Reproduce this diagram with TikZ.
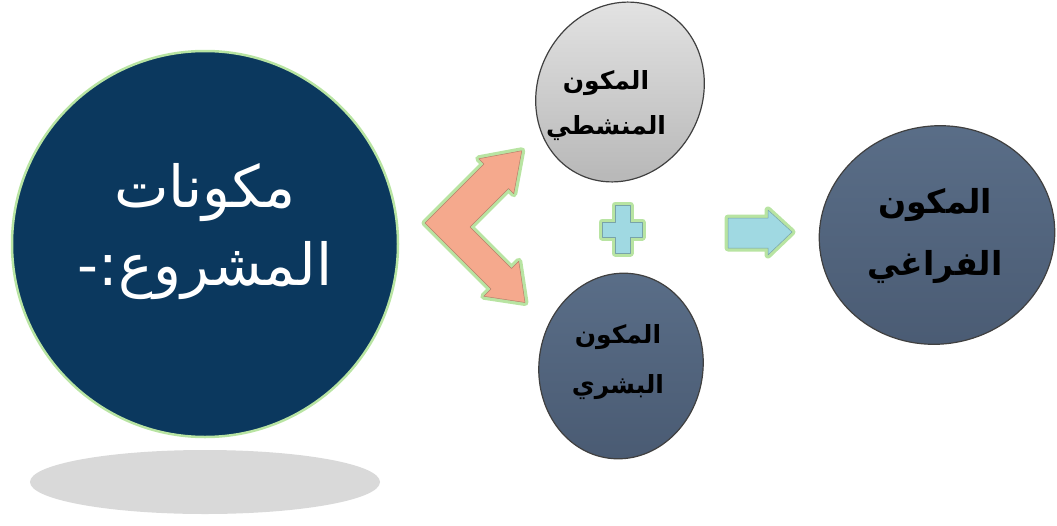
\documentclass[tikz,border=0pt]{standalone}
\usepackage{fontspec}
\usetikzlibrary{shapes.geometric}
\newfontfamily\arabicfont[Script=Arabic]{DejaVu Sans}
\TeXXeTstate=1
\definecolor{navy}{HTML}{0B385E}
\definecolor{glow}{HTML}{B8E4A2}
\definecolor{slatetop}{HTML}{5A6E88}
\definecolor{slatebot}{HTML}{4A5B73}
\definecolor{salmon}{HTML}{F5A98D}
\definecolor{aqua}{HTML}{A0D9E2}
\newcommand\rl[1]{\beginR #1\endR}

\begin{document}
\begin{tikzpicture}[x=1pt,y=-1pt,
big/.style={circle,fill=navy,draw=glow,line width=2.5pt,minimum size=386pt,inner sep=0pt},
disc/.style={ellipse,draw=black!75,line width=1.2pt,inner sep=0pt},
dark/.style={disc,top color=slatetop,bottom color=slatebot},
bigtxt/.style={font=\arabicfont\fontsize{58}{78}\selectfont,text=white,align=center},
lbl/.style 2 args={font=\arabicfont\bfseries\fontsize{#1}{#2}\selectfont,align=center},
glowfill/.style={preaction={draw=glow,line width=7pt,line join=round},draw=#1!75!black,line width=.5pt,line join=round,fill=#1}]
\useasboundingbox (0,0) rectangle (1057,525);
% shadow under the big circle
\fill[gray!30](205,482) ellipse[x radius=175,y radius=32];
\node[big](proj) at (205,244){};
\node[bigtxt](projT) at (205,232){\rl{مكونات}\\\rl{المشروع:-}};
% the three components
\node[disc,minimum width=164pt,minimum height=184pt,rotate=-28,top color=gray!20,middle color=white,bottom color=gray!55](act) at (620,92){};
\node[lbl={25}{45}](actT) at (606,106){\rl{المكون}\\\rl{المنشطي}};
\node[dark,minimum width=164pt,minimum height=186pt,rotate=-8](hum) at (621,366){};
\node[lbl={25}{50}](humT) at (618,362){\rl{المكون}\\\rl{البشري}};
\node[dark,minimum width=236pt,minimum height=218pt,rotate=10](spa) at (937,235){};
\node[lbl={33}{62}](spaT) at (935,236){\rl{المكون}\\\rl{الفراغي}};
% chevron, plus, arrow
\path[glowfill=salmon](425,223)--(484,164)--(478.75,158.75)--(521.75,150.75)--(513.75,193.75)--(508.5,188.5)
  --(470,227)--(511.5,268.5)--(518.75,261.25)--(525,302.5)--(483.75,296.25)--(491,289)--cycle;
\path[glowfill=aqua](615,205)--(630,205)--(630,222)--(642,222)--(642,237)--(630,237)--(630,253)--(615,253)
  --(615,237)--(602,237)--(602,222)--(615,222)--cycle;
\path[glowfill=aqua](728,218)--(768,218)--(768,210)--(792,232)--(768,255)--(768,248)--(728,248)--cycle;
\end{tikzpicture}
\end{document}
